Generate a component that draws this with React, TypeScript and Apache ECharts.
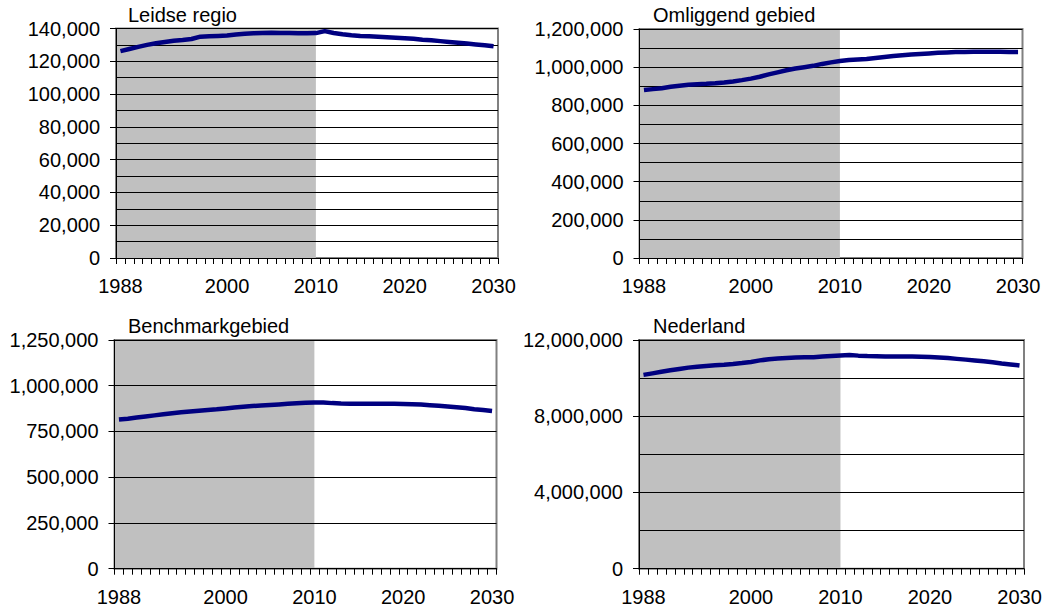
import React, { useEffect, useRef } from "react";
import * as echarts from "echarts";

const YEARS: number[] = [];
for (let y = 1988; y <= 2030; y++) YEARS.push(y);
const LABEL_YEARS = [1988, 2000, 2010, 2020, 2030];
const SHADE_END = 2010;

const TITLES = ["Leidse regio", "Omliggend gebied", "Benchmarkgebied", "Nederland"];

const LEIDSE = [
  126200, 127500, 128800, 130000, 131000, 131800, 132500, 133000, 133600, 135000,
  135300, 135500, 135700, 136300, 136800, 137100, 137300, 137400, 137300, 137200,
  137100, 137100, 137200, 138400, 137300, 136500, 135900, 135400, 135200, 135000,
  134700, 134400, 134100, 133700, 133200, 132800, 132300, 131800, 131300, 130800,
  130300, 129800, 129200,
];
const OMLIGGEND = [
  880000, 885000, 890000, 897000, 903000, 908000, 911000, 913000, 916000, 920000,
  925000, 932000, 940000, 950000, 962000, 973000, 984000, 993000, 1000000, 1007000,
  1017000, 1025000, 1032000, 1037000, 1040000, 1043000, 1048000, 1053000, 1058000, 1062000,
  1066000, 1069000, 1072000, 1075000, 1077000, 1079000, 1080000, 1081000, 1081000, 1081000,
  1081000, 1080000, 1080000,
];
const BENCHMARK = [
  815000, 820000, 826000, 832000, 838000, 844000, 850000, 855000, 859000, 863000,
  867000, 871000, 876000, 881000, 885000, 889000, 892000, 895000, 898000, 901000,
  904000, 907000, 909000, 908000, 905000, 903000, 902000, 902000, 902000, 902000,
  902000, 901000, 900000, 899000, 897000, 894000, 891000, 887000, 883000, 878000,
  872000, 867000, 862000,
];
const NEDERLAND = [
  10170000, 10250000, 10330000, 10410000, 10480000, 10550000, 10600000, 10640000, 10670000, 10700000,
  10740000, 10790000, 10850000, 10930000, 10990000, 11030000, 11060000, 11080000, 11090000, 11100000,
  11130000, 11160000, 11190000, 11210000, 11180000, 11160000, 11150000, 11140000, 11140000, 11140000,
  11130000, 11120000, 11110000, 11080000, 11050000, 11010000, 10970000, 10930000, 10880000, 10830000,
  10770000, 10720000, 10660000,
];
const SERIES = [LEIDSE, OMLIGGEND, BENCHMARK, NEDERLAND];

const Y_MAX = [140000, 1200000, 1250000, 12000000];
const Y_LABEL_STEP = [20000, 200000, 250000, 4000000];
const Y_MINOR_SPLIT = [2, 2, 1, 2];

const GRIDS = [
  { left: 116, top: 28.5, width: 382, height: 229.5 },
  { left: 639.5, top: 29, width: 383, height: 229 },
  { left: 114.5, top: 340, width: 382, height: 228.7 },
  { left: 639, top: 340, width: 385, height: 228.7 },
];
const TITLE_POS = [
  { left: 128, top: 5 },
  { left: 653, top: 5 },
  { left: 128, top: 315.7 },
  { left: 653, top: 315.7 },
];

const FONT = "'Liberation Sans', Arial, sans-serif";

export default function App() {
  const ref = useRef<HTMLDivElement>(null);
  useEffect(() => {
    if (!ref.current) return;
    const chart = echarts.init(ref.current, null, { renderer: "svg" });
    const fmt = (v: number) => v.toLocaleString("en-US");
    const grid: any[] = [];
    const xAxis: any[] = [];
    const yAxis: any[] = [];
    const series: any[] = [];
    const title: any[] = [];
    const first = YEARS[0];
    const last = YEARS[YEARS.length - 1];
    for (let i = 0; i < 4; i++) {
      grid.push({
        ...GRIDS[i],
        show: true,
        borderColor: "#808080",
        borderWidth: 2,
        backgroundColor: "transparent",
      });
      title.push({
        text: TITLES[i],
        left: TITLE_POS[i].left,
        top: TITLE_POS[i].top,
        padding: 0,
        textStyle: { fontFamily: FONT, fontSize: 20, fontWeight: "normal", color: "#000" },
      });
      xAxis.push({
        type: "category",
        gridIndex: i,
        data: YEARS.map(String),
        boundaryGap: true,
        axisLine: { lineStyle: { color: "#000", width: 1 } },
        axisTick: { show: true, interval: 0, length: 6, lineStyle: { color: "#000" } },
        axisLabel: {
          interval: (_idx: number, val: string) => LABEL_YEARS.includes(Number(val)),
          margin: 18,
          fontFamily: FONT,
          fontSize: 20,
          color: "#000",
        },
        splitLine: { show: false },
        z: 4,
      });
      xAxis.push({
        type: "value",
        gridIndex: i,
        min: first - 0.5,
        max: last + 0.5,
        show: false,
        splitLine: { show: false },
      });
      yAxis.push({
        type: "value",
        gridIndex: i,
        min: 0,
        max: Y_MAX[i],
        interval: Y_LABEL_STEP[i],
        axisLine: { show: true, lineStyle: { color: "#000", width: 1 } },
        axisTick: { show: true, length: 6, lineStyle: { color: "#000" } },
        axisLabel: { formatter: fmt, margin: 16, fontFamily: FONT, fontSize: 20, color: "#000" },
        splitLine: { show: true, lineStyle: { color: "#000", width: 1 } },
        minorTick: { show: false, splitNumber: Y_MINOR_SPLIT[i] },
        minorSplitLine: { show: Y_MINOR_SPLIT[i] > 1, lineStyle: { color: "#000", width: 1 } },
        z: 3,
      });
      series.push({
        type: "line",
        xAxisIndex: 2 * i + 1,
        yAxisIndex: i,
        data: [],
        z: 1,
        silent: true,
        markArea: {
          silent: true,
          itemStyle: { color: "#C0C0C0" },
          data: [[{ xAxis: first - 0.5 }, { xAxis: SHADE_END }]],
        },
      });
      series.push({
        type: "line",
        xAxisIndex: 2 * i + 1,
        yAxisIndex: i,
        data: YEARS.map((y, k) => [y, SERIES[i][k]]),
        showSymbol: false,
        symbol: "none",
        lineStyle: { color: "#000080", width: 4.5 },
        z: 5,
      });
    }
    chart.setOption({
      animation: false,
      backgroundColor: "#fff",
      title,
      grid,
      xAxis,
      yAxis,
      series,
    });
    return () => chart.dispose();
  }, []);
  return (
    <div
      ref={ref}
      style={{ position: "fixed", left: 0, top: 0, width: 1048, height: 611 }}
    />
  );
}
